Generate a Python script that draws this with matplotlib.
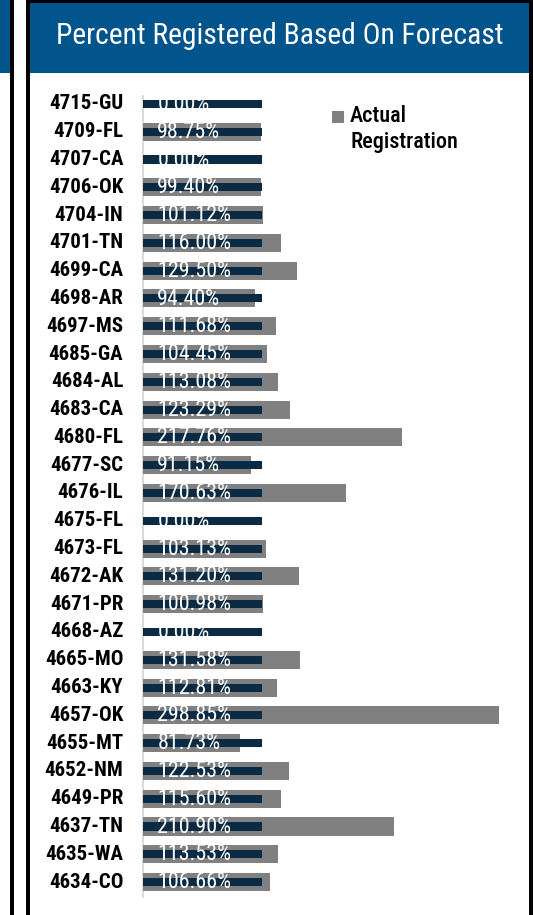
import matplotlib.pyplot as plt
from matplotlib.patches import Rectangle

sites = ["4715-GU", "4709-FL", "4707-CA", "4706-OK", "4704-IN", "4701-TN", "4699-CA",
         "4698-AR", "4697-MS", "4685-GA", "4684-AL", "4683-CA", "4680-FL", "4677-SC",
         "4676-IL", "4675-FL", "4673-FL", "4672-AK", "4671-PR", "4668-AZ", "4665-MO",
         "4663-KY", "4657-OK", "4655-MT", "4652-NM", "4649-PR", "4637-TN", "4635-WA",
         "4634-CO"]
actual = [0.00, 98.75, 0.00, 99.40, 101.12, 116.00, 129.50, 94.40, 111.68, 104.45,
          113.08, 123.29, 217.76, 91.15, 170.63, 0.00, 103.13, 131.20, 100.98, 0.00,
          131.58, 112.81, 298.85, 81.73, 122.53, 115.60, 210.90, 113.53, 106.66]
forecast = [100.0] * len(sites)

W, H = 533, 915
plt.rcParams["font.family"] = ["Roboto Condensed", "DejaVu Sans"]

fig = plt.figure(figsize=(W / 100, H / 100), dpi=100)


def box(x0, y0, x1, y1, color):
    # pixel box (top-left origin) -> figure fraction
    fig.add_artist(Rectangle((x0 / W, 1 - y1 / H), (x1 - x0) / W, (y1 - y0) / H,
                             transform=fig.transFigure, facecolor=color,
                             edgecolor="none", zorder=0))


blue = "#02548c"
# neighbouring panel on the left
box(0, 0, 11, 73, blue)
box(10, 0, 14, H, "black")
# main panel frame and header
box(26, 0, 533, 3, "black")
box(26, 0, 30, H, "black")
box(529, 0, 533, H, "black")
box(30, 3, 529, 73, blue)
fig.text(280 / W, 1 - 36 / H, "Percent Registered Based On Forecast", color="white",
         fontsize=21.3, ha="center", va="center")

# plot area: x=0 at px 143, 100% at px 262
x0_px, x100_px = 143, 262
right_px = 529
xmax = (right_px - x0_px) / (x100_px - x0_px) * 100
top_px, bot_px = 90, 896
ax = fig.add_axes([x0_px / W, 1 - bot_px / H, (right_px - x0_px) / W, (bot_px - top_px) / H])
ax.set_xlim(0, xmax)
n = len(sites)
ax.set_ylim(n - 0.5, -0.5)
ax.axis("off")

ys = list(range(n))
ax.barh(ys, actual, height=0.65, color="#808080", zorder=2, label="Actual\nRegistration")
ax.barh(ys, forecast, height=0.29, color="#0b2b45", zorder=3)
ax.plot([0, 0], [-0.3, n - 0.45], color="#d4d4d4", lw=1.2, zorder=1, clip_on=False)

for y, name, v in zip(ys, sites, actual):
    ax.text(12, y + 0.02, f"{v:.2f}%", color="white", fontsize=15.8,
            ha="left", va="center", zorder=4)
    ax.text(-16.5, y, name, color="black", fontsize=15, fontweight="bold",
            ha="right", va="center", clip_on=False)

# legend
box(332, 111, 344, 123, "#808080")
fig.text(350 / W, 1 - 116 / H, "Actual", fontsize=16, fontweight="medium",
         ha="left", va="center")
fig.text(350 / W, 1 - 142 / H, "Registration", fontsize=16, fontweight="medium",
         ha="left", va="center")

fig.savefig("out.png", dpi=100)
